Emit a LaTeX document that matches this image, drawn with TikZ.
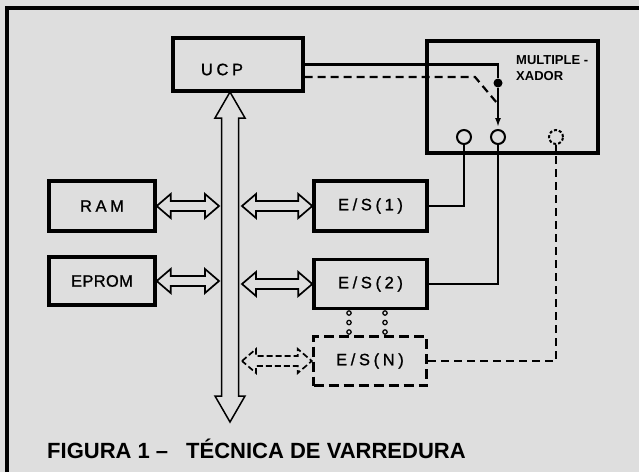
\documentclass[tikz,border=0pt]{standalone}
\usepackage{fontspec}
\setmainfont{Liberation Sans}
\newfontfamily\lblfont[LetterSpace=22, FakeBold=1]{Liberation Sans}
\usetikzlibrary{calc,arrows.meta}
\definecolor{paper}{gray}{0.87}

\tikzset{
  blk/.style={draw, line width=3.4pt, minimum width=113pt, minimum height=49pt,
    inner sep=0pt, font=\lblfont\fontsize{16.5}{18}\selectfont},
  port/.style={draw, circle, line width=2pt, minimum size=14pt, inner sep=0pt},
  wire/.style={line width=2.2pt},
  dashes/.style={dash pattern=on 8pt off 5pt},
  fatline/.style={line width=1.7pt, line join=miter},
  % hollow two-headed arrow: head length, head half width, shaft half width
  fat/.style n args={3}{to path={
    -- ($(\tikztostart)!#1!(\tikztotarget)!#2!90:(\tikztotarget)$)
    -- ($(\tikztostart)!#1!(\tikztotarget)!#3!90:(\tikztotarget)$)
    -- ($(\tikztotarget)!#1!(\tikztostart)!#3!-90:(\tikztostart)$)
    -- ($(\tikztotarget)!#1!(\tikztostart)!#2!-90:(\tikztostart)$)
    -- (\tikztotarget)
    -- ($(\tikztotarget)!#1!(\tikztostart)!#2!90:(\tikztostart)$)
    -- ($(\tikztotarget)!#1!(\tikztostart)!#3!90:(\tikztostart)$)
    -- ($(\tikztostart)!#1!(\tikztotarget)!#3!-90:(\tikztotarget)$)
    -- ($(\tikztostart)!#1!(\tikztotarget)!#2!-90:(\tikztotarget)$)
    -- cycle}}
}

\begin{document}
\begin{tikzpicture}[x=1pt, y=-1pt]
\fill[paper] (0,0) rectangle (639,472);
\useasboundingbox (0,0) rectangle (639,472);
\draw[line width=3.5pt] (7,472) -- (7,8) -- (639,8);

% blocks
\node[blk, minimum width=130pt, minimum height=53pt,
  label={[xshift=-16pt, yshift=-5pt, font=\lblfont\fontsize{16.5}{18}\selectfont]center:UCP}] (ucp) at (238,64.5) {};
\node[blk, minimum width=106pt, minimum height=50pt] (ram) at (102,206) {RAM};
\node[blk, minimum width=106pt, minimum height=48pt] (eprom) at (102,281) {\addfontfeature{LetterSpace=2}EPROM};
\node[blk, minimum height=50pt] (es1) at (370.5,206) {E/S(1)};
\node[blk] (es2) at (370.5,284) {E/S(2)};
\node[blk, dash pattern=on 10pt off 5pt] (esN) at (370,361) {E/S(N)};
\node[draw, line width=3.4pt, minimum width=171pt, minimum height=112pt] (mux) at (512.5,97) {};
\node[anchor=north west, inner sep=0pt, align=left, font=\bfseries\fontsize{13}{16}\selectfont] (muxtxt) at (516,55) {MULTIPLE -\\XADOR};

% multiplexer contacts
\node[port] (c1) at (464,137) {};
\node[port] (c2) at (498,137) {};
\node[port, dash pattern=on 3pt off 2pt] (c3) at (556,137) {};
\node[circle, fill, inner sep=0pt, minimum size=9pt] (pivot) at (498,83) {};
\coordinate (kink) at (475,77);
\coordinate (lever) at (497,103);

\draw[wire] (ucp.east) -| (pivot);
\draw[wire, -{Latex[length=9pt, width=6pt]}, shorten >=2pt] (pivot) -- (c2);
\draw[wire, dashes] ($(ucp.east)+(0,12.5)$) -- (kink) -- (lever);
\draw[wire] (es1.east) -| (c1.south);
\draw[wire] (es2.east) -| (c2.south);
\draw[wire, dashes] (esN.east) -| (c3.south);

\foreach \x in {349,385}
  \foreach \y in {313,322.5,332}
    \draw[line width=1.2pt] (\x,\y) circle (2.2pt);

% bus and its arrows
\coordinate (bustop) at (230,92);
\coordinate (busbot) at (230,422);
\coordinate (bw1) at (219,206);
\coordinate (bw2) at (219,281);
\coordinate (be1) at (242,206);
\coordinate (be2) at (242,284);
\coordinate (be3) at (242,361);
\draw[line width=1.5pt] (bustop) to[fat={26pt}{15pt}{8.5pt}] (busbot);
\draw[fatline] (ram.east) to[fat={14pt}{12pt}{5pt}] (bw1);
\draw[fatline] (eprom.east) to[fat={14pt}{12pt}{5pt}] (bw2);
\draw[fatline] (be1) to[fat={14pt}{12pt}{5pt}] (es1.west);
\draw[fatline] (be2) to[fat={14pt}{12pt}{5pt}] (es2.west);
\draw[fatline, dash pattern=on 6pt off 3pt] (be3) to[fat={14pt}{12pt}{5pt}] (esN.west);

\node[anchor=base west, inner sep=0pt, font=\bfseries\fontsize{22}{24}\selectfont] (caption) at (47,458)
  {FIGURA 1 \textendash\hspace{18pt}TÉCNICA DE VARREDURA};
\end{tikzpicture}
\end{document}
